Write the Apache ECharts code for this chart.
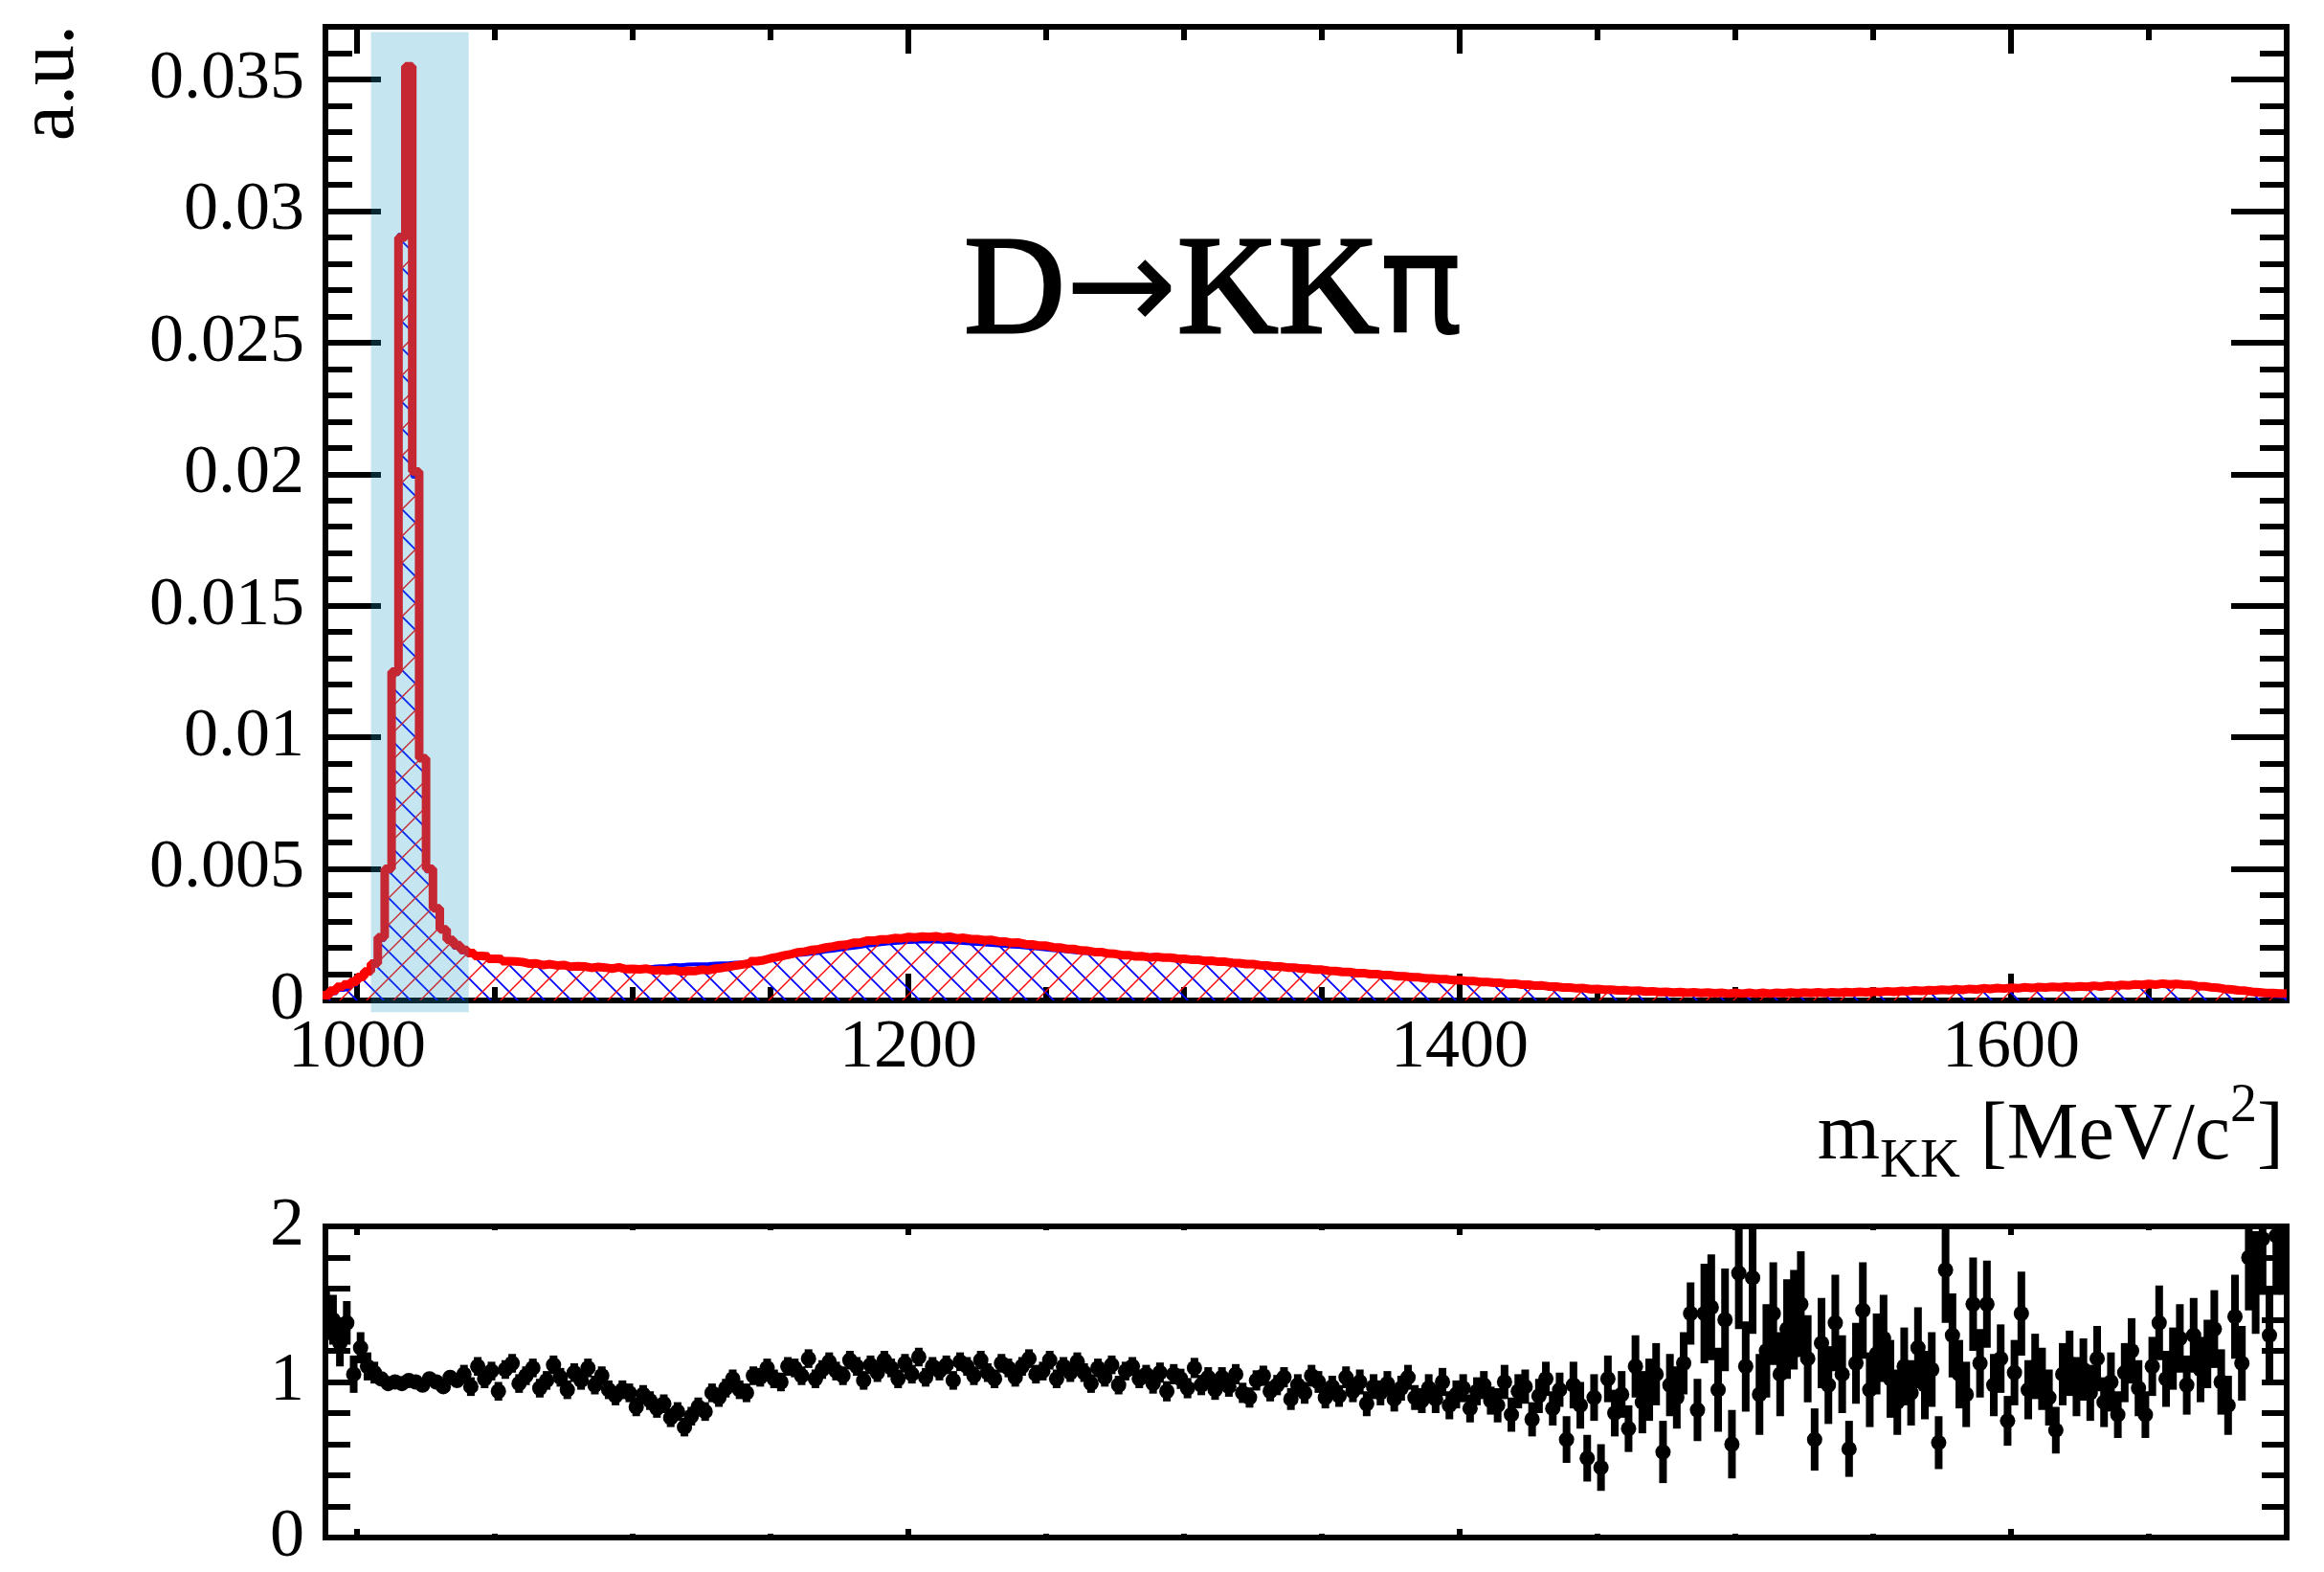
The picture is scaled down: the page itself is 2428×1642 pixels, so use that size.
<!DOCTYPE html>
<html><head><meta charset="utf-8">
<script src="https://cdn.jsdelivr.net/npm/echarts@6/dist/echarts.min.js"></script>
<style>html,body{margin:0;padding:0;background:#fff;}#c{width:2428px;height:1642px;}</style>
</head><body><div id="c"></div>
<script>
// ---------------- data ----------------
const binLow = 987.5;      // MeV, lower edge of first bin
const binWidth = 2.5;      // MeV
const xMin = 988.5, xMax = 1700;

// red histogram (model), per bin
const modelValues = [
0.0002,0.00037,0.00052,0.00061,0.00071,0.00089,0.0011,0.0014,0.0024,0.005,
0.0125,0.029,0.0355,0.0201,0.0092,0.005,0.0035,0.0027,0.0023,0.0021,
0.00192,0.0018,0.00169,0.00167,0.00158,0.00157,0.00149,0.00148,0.00146,0.0014,
0.00141,0.00134,0.00138,0.00133,0.00135,0.00128,0.0013,0.00129,0.00124,0.00127,
0.00125,0.00121,0.00126,0.00119,0.0012,0.00118,0.00121,0.00114,0.00116,0.00113,
0.00116,0.0011,0.00113,0.00112,0.00117,0.00115,0.00121,0.00124,0.00128,0.00133,
0.00137,0.00141,0.00149,0.00153,0.0016,0.00165,0.00171,0.00176,0.00183,0.00186,
0.00192,0.00195,0.00201,0.00205,0.0021,0.00212,0.00219,0.0022,0.00227,0.00227,
0.00232,0.00232,0.00237,0.00236,0.00241,0.00239,0.00243,0.00241,0.00244,0.00239,
0.00242,0.00236,0.00238,0.00234,0.00233,0.00229,0.0023,0.00225,0.00224,0.00219,
0.0022,0.00214,0.00213,0.00208,0.00208,0.00202,0.00201,0.00196,0.00196,0.0019,
0.00189,0.00184,0.00184,0.00178,0.00177,0.00172,0.00172,0.00167,0.00168,0.00163,
0.00166,0.00163,0.00163,0.00159,0.00158,0.00155,0.00155,0.0015,0.00151,0.00147,
0.00147,0.00143,0.00142,0.00138,0.00138,0.00134,0.00133,0.00129,0.00129,0.00125,
0.00125,0.00121,0.00121,0.00117,0.00117,0.00113,0.00112,0.00108,0.00108,0.00104,
0.00104,0.001,0.001,0.00096,0.00096,0.00092,0.00092,0.00088,0.00088,0.00084,
0.00084,0.00081,0.00081,0.00077,0.00077,0.00074,0.00074,0.0007,0.0007,0.00067,
0.00067,0.00063,0.00064,0.0006,0.0006,0.00056,0.00057,0.00053,0.00053,0.00049,
0.00049,0.00046,0.00047,0.00043,0.00044,0.00041,0.00041,0.00038,0.00039,0.00036,
0.00037,0.00034,0.00035,0.00032,0.00033,0.0003,0.00032,0.00029,0.00031,0.00028,
0.0003,0.00027,0.00029,0.00026,0.00029,0.00026,0.00029,0.00026,0.00029,0.00026,
0.00029,0.00027,0.0003,0.00027,0.0003,0.00028,0.00031,0.00028,0.00031,0.00029,
0.00032,0.0003,0.00033,0.00031,0.00034,0.00032,0.00035,0.00033,0.00036,0.00035,
0.00038,0.00036,0.00039,0.00038,0.00041,0.00039,0.00043,0.0004,0.00044,0.00042,
0.00046,0.00044,0.00047,0.00045,0.00048,0.00046,0.0005,0.00047,0.00051,0.00049,
0.00052,0.0005,0.00053,0.00051,0.00054,0.00052,0.00056,0.00053,0.00057,0.00055,
0.00059,0.00057,0.00061,0.00059,0.00063,0.0006,0.00064,0.00061,0.00063,0.0006,
0.00059,0.00055,0.00054,0.0005,0.00048,0.00044,0.00042,0.00038,0.00037,0.00033,
0.00031,0.00028,0.00028,0.00026,0.00026
];

// blue histogram (data), per bin
const dataValues = [
0.00014,0.00027,0.0004,0.00046,0.0006,0.0008,0.00102,0.00135,0.0023,0.0049,
0.0124,0.0291,0.0353,0.0199,0.0092,0.0049,0.0035,0.0027,0.0023,0.002,
0.00183,0.00172,0.00163,0.00161,0.00153,0.00149,0.00145,0.00141,0.00139,0.00135,
0.00133,0.00131,0.0013,0.00128,0.00127,0.00125,0.00124,0.00122,0.00121,0.0012,
0.0012,0.00119,0.00121,0.00122,0.00124,0.00125,0.00127,0.00128,0.0013,0.00131,
0.00135,0.00134,0.00136,0.00137,0.00137,0.00138,0.0014,0.00141,0.00142,0.00144,
0.00145,0.00149,0.00151,0.00157,0.00158,0.00163,0.00164,0.0017,0.00173,0.00175,
0.00178,0.00181,0.00186,0.00189,0.00193,0.00197,0.002,0.00204,0.00208,0.0021,
0.00214,0.00216,0.00218,0.0022,0.00222,0.00223,0.00224,0.00224,0.00224,0.00223,
0.00222,0.0022,0.00218,0.00216,0.00215,0.00213,0.00211,0.00209,0.00207,0.00205,
0.00204,0.00201,0.00199,0.00196,0.00194,0.00191,0.00189,0.00186,0.00184,0.00181,
0.0018,0.00178,0.00175,0.00173,0.0017,0.00168,0.00166,0.00163,0.00161,0.00159,
0.00172,0.0017,0.00168,0.00166,0.00164,0.00162,0.0016,0.00158,0.00156,0.00154,
0.00152,0.0015,0.00148,0.00146,0.00144,0.00141,0.00139,0.00137,0.00135,0.00133,
0.00131,0.00129,0.00127,0.00125,0.00123,0.0012,0.00118,0.00116,0.00114,0.00112,
0.0011,0.00108,0.00106,0.00104,0.00102,0.001,0.00098,0.00096,0.00094,0.00092,
0.0009,0.00088,0.00087,0.00085,0.00083,0.00081,0.00079,0.00077,0.00075,0.00074,
0.00072,0.0007,0.00068,0.00066,0.00064,0.00062,0.0006,0.00058,0.00056,0.00054,
0.00053,0.00051,0.00049,0.00048,0.00046,0.00045,0.00043,0.00042,0.00041,0.0004,
0.00038,0.00037,0.00036,0.00034,0.00033,0.00032,0.00031,0.0003,0.00029,0.00028,
0.00025,0.00024,0.00024,0.00023,0.00023,0.00023,0.00023,0.00023,0.00023,0.00023,
0.00023,0.00023,0.00023,0.00024,0.00024,0.00024,0.00025,0.00025,0.00026,0.00026,
0.00027,0.00027,0.00028,0.00029,0.00029,0.0003,0.00031,0.00031,0.00032,0.00033,
0.00034,0.00035,0.00035,0.00036,0.00037,0.00038,0.00039,0.0004,0.0004,0.00041,
0.00042,0.00043,0.00043,0.00044,0.00045,0.00046,0.00046,0.00047,0.00048,0.00048,
0.00049,0.0005,0.0005,0.00051,0.00052,0.00052,0.00053,0.00054,0.00055,0.00056,
0.00057,0.00058,0.00059,0.0006,0.00061,0.00061,0.00061,0.00061,0.0006,0.00058,
0.00055,0.00052,0.00049,0.00046,0.00043,0.0004,0.00037,0.00034,0.00031,0.00028,
0.00022,0.00019,0.00017,0.00015,0.00014
];

// lower panel: ratio per bin and its uncertainty
const ratioValues = [
1.44,1.40,1.25,1.38,1.05,1.22,1.10,1.06,1.02,0.99,
1.00,0.99,1.01,1.00,0.98,1.02,1.00,0.97,1.03,1.01,
1.05,0.97,1.10,1.02,1.07,0.94,1.08,1.12,0.99,1.04,
1.09,0.96,1.01,1.11,1.03,0.95,1.06,1.01,1.09,0.98,
1.04,0.95,0.91,0.95,0.93,0.84,0.92,0.88,0.83,0.86,
0.77,0.81,0.71,0.78,0.84,0.81,0.93,0.90,0.96,1.02,
0.95,0.93,1.04,1.03,1.09,1.02,1.00,1.10,1.09,1.04,
1.15,1.02,1.08,1.13,1.07,1.04,1.14,1.10,1.01,1.11,
1.06,1.14,1.09,1.02,1.12,1.05,1.16,1.03,1.10,1.07,
1.11,1.01,1.13,1.10,1.04,1.14,1.06,1.02,1.12,1.09,
1.03,1.10,1.15,1.05,1.07,1.14,1.02,1.10,1.06,1.13,
1.06,0.99,1.09,1.03,1.11,0.98,1.07,1.10,1.02,1.05,
0.99,1.06,0.94,1.05,1.02,0.96,1.09,0.98,1.03,0.95,
1.03,0.97,1.05,0.93,0.90,1.01,1.04,0.94,0.98,1.03,
0.89,0.98,0.93,1.04,1.00,0.90,0.97,0.91,1.03,0.94,
1.00,0.86,0.97,0.93,0.99,0.89,0.96,1.03,0.90,0.88,
0.96,0.89,1.00,0.85,0.92,0.96,0.83,0.94,0.98,0.88,
0.85,1.00,0.79,0.94,0.97,0.76,0.91,1.02,0.83,0.95,
0.63,0.98,0.85,0.51,0.90,0.45,1.02,0.80,0.92,0.70,
1.10,0.87,0.95,1.05,0.55,0.98,0.90,1.12,1.44,0.82,
1.44,1.48,0.95,1.40,0.60,1.70,1.10,1.67,0.92,1.20,
1.44,1.05,1.34,1.40,1.50,1.15,0.63,1.25,0.98,1.38,
1.05,0.57,1.12,1.46,0.95,1.18,1.28,1.02,0.87,1.10,
0.93,1.22,0.98,1.08,0.61,1.72,1.30,1.05,0.92,1.50,
1.12,1.50,0.98,1.15,0.75,1.06,1.44,0.95,1.10,1.02,
0.90,0.69,1.05,1.12,0.97,1.08,0.93,1.15,0.87,1.00,
0.79,1.06,1.20,0.96,0.79,1.10,1.38,1.02,1.15,1.28,
0.98,1.30,1.08,1.18,1.34,1.00,0.85,1.42,1.12,1.80,
1.64,1.92,1.30,1.94,1.96
];
const ratioErrors = [
0.17,0.16,0.15,0.14,0.12,0.10,0.09,0.07,0.04,0.03,
0.02,0.015,0.015,0.015,0.02,0.025,0.03,0.035,0.04,0.045,
0.06,0.06,0.06,0.06,0.06,0.06,0.06,0.06,0.06,0.06,
0.06,0.06,0.06,0.06,0.06,0.06,0.06,0.06,0.06,0.06,
0.06,0.06,0.06,0.06,0.06,0.06,0.06,0.06,0.06,0.06,
0.06,0.06,0.06,0.06,0.06,0.06,0.06,0.06,0.06,0.06,
0.06,0.06,0.06,0.06,0.06,0.06,0.06,0.06,0.06,0.06,
0.06,0.06,0.06,0.06,0.06,0.06,0.06,0.06,0.06,0.06,
0.06,0.06,0.06,0.06,0.06,0.06,0.06,0.06,0.06,0.06,
0.06,0.06,0.06,0.06,0.06,0.06,0.06,0.06,0.06,0.06,
0.06,0.06,0.06,0.06,0.06,0.06,0.06,0.06,0.06,0.06,
0.06,0.06,0.06,0.06,0.06,0.06,0.06,0.06,0.06,0.06,
0.065,0.065,0.065,0.065,0.065,0.065,0.065,0.065,0.065,0.065,
0.065,0.065,0.065,0.065,0.065,0.065,0.065,0.065,0.065,0.065,
0.07,0.07,0.07,0.07,0.07,0.07,0.07,0.07,0.07,0.07,
0.08,0.08,0.08,0.08,0.08,0.08,0.08,0.08,0.08,0.08,
0.09,0.09,0.09,0.09,0.09,0.09,0.09,0.09,0.09,0.09,
0.11,0.11,0.11,0.11,0.11,0.11,0.11,0.11,0.11,0.11,
0.15,0.15,0.15,0.15,0.15,0.15,0.15,0.15,0.15,0.15,
0.20,0.20,0.20,0.20,0.20,0.20,0.20,0.20,0.20,0.20,
0.32,0.34,0.27,0.33,0.22,0.36,0.29,0.36,0.26,0.30,
0.33,0.27,0.32,0.32,0.34,0.28,0.20,0.29,0.25,0.31,
0.25,0.18,0.26,0.31,0.24,0.26,0.28,0.25,0.21,0.25,
0.21,0.26,0.22,0.24,0.17,0.34,0.27,0.22,0.21,0.30,
0.22,0.28,0.20,0.22,0.16,0.21,0.27,0.19,0.21,0.20,
0.18,0.15,0.20,0.21,0.19,0.20,0.18,0.21,0.16,0.19,
0.15,0.19,0.21,0.18,0.15,0.19,0.24,0.18,0.20,0.22,
0.19,0.24,0.21,0.22,0.25,0.21,0.19,0.27,0.24,0.34,
0.33,0.36,0.29,0.38,0.40
];

// highlighted mass window
const bandRange = [1005, 1040.5];

// axes
const xTickLabels = [1000, 1200, 1400, 1600];
const xMinorTicks = [1000,1050,1100,1150,1200,1250,1300,1350,1400,1450,1500,1550,1600,1650,1700];
const yTickLabels = [0, 0.005, 0.01, 0.015, 0.02, 0.025, 0.03, 0.035];
const yMinorTicks = [0.001,0.002,0.003,0.004,0.006,0.007,0.008,0.009,0.011,0.012,0.013,0.014,0.016,0.017,0.018,0.019,0.021,0.022,0.023,0.024,0.026,0.027,0.028,0.029,0.031,0.032,0.033,0.034,0.036];
const yMax = 0.037;
const ratioTickLabels = [0, 1, 2];
const ratioMinorTicks = [0.2,0.4,0.6,0.8,1.2,1.4,1.6,1.8];

// ---------------- chart ----------------
const FONT = 'Liberation Serif';

function hatch(color, dir, lw) {
  const s = 28;
  const c = document.createElement('canvas');
  c.width = s; c.height = s;
  const g = c.getContext('2d');
  g.strokeStyle = color; g.lineWidth = lw;
  g.beginPath();
  for (let k = -1; k <= 1; k++) {
    if (dir > 0) { g.moveTo(k * s, s); g.lineTo(k * s + s, 0); }
    else { g.moveTo(k * s, 0); g.lineTo(k * s + s, s); }
  }
  g.stroke();
  return c;
}

function stepData(vals) {
  const d = vals.map((v, i) => [binLow + i * binWidth, v]);
  d.push([binLow + vals.length * binWidth, vals[vals.length - 1]]);
  return d;
}

function tickAxis(gridIndex, position, min, max, ticks, len, labels, labelMargin, fmt) {
  return {
    type: 'value', gridIndex, position, min, max,
    splitLine: { show: false }, minorTick: { show: false }, minorSplitLine: { show: false },
    axisLine: { show: false, onZero: false },
    axisTick: { show: true, inside: true, length: len, customValues: ticks,
      lineStyle: { color: '#000', width: 6 } },
    axisLabel: labels ? {
      show: true, customValues: labels, margin: labelMargin,
      fontFamily: FONT, fontSize: 72, color: '#000',
      formatter: fmt || (v => String(v))
    } : { show: false }
  };
}

const yFmt = v => String(+(+v).toFixed(3));

const ratioPoints = ratioValues.map((v, i) => [binLow + (i + 0.5) * binWidth, v, ratioErrors[i]]);

const chart = echarts.init(document.getElementById('c'), null, { renderer: 'canvas' });
chart.setOption({
  animation: false,
  backgroundColor: '#fff',
  grid: [
    { left: 340, top: 28, width: 2049, height: 1017, show: true, borderWidth: 6, borderColor: '#000', backgroundColor: 'transparent' },
    { left: 340, top: 1281, width: 2049, height: 333, show: true, borderWidth: 6, borderColor: '#000', backgroundColor: 'transparent' }
  ],
  xAxis: [
    tickAxis(0, 'bottom', xMin, xMax, xTickLabels, 28, xTickLabels, 14),
    tickAxis(0, 'bottom', xMin, xMax, xMinorTicks, 14),
    tickAxis(0, 'top', xMin, xMax, xTickLabels, 28),
    tickAxis(0, 'top', xMin, xMax, xMinorTicks, 14),
    tickAxis(1, 'bottom', xMin, xMax, xTickLabels, 9),
    tickAxis(1, 'bottom', xMin, xMax, xMinorTicks, 4),
    tickAxis(1, 'top', xMin, xMax, xTickLabels, 9),
    tickAxis(1, 'top', xMin, xMax, xMinorTicks, 4)
  ],
  yAxis: [
    tickAxis(0, 'left', 0, yMax, yTickLabels, 58, yTickLabels, 22, yFmt),
    tickAxis(0, 'left', 0, yMax, yMinorTicks, 28),
    tickAxis(0, 'right', 0, yMax, yTickLabels, 58),
    tickAxis(0, 'right', 0, yMax, yMinorTicks, 28),
    tickAxis(1, 'left', 0, 2, ratioTickLabels, 26, ratioTickLabels, 22),
    tickAxis(1, 'left', 0, 2, ratioMinorTicks, 26),
    tickAxis(1, 'right', 0, 2, ratioTickLabels, 26),
    tickAxis(1, 'right', 0, 2, ratioMinorTicks, 26)
  ],
  series: [
    {
      type: 'line', xAxisIndex: 0, yAxisIndex: 0, step: 'end', symbol: 'none', z: 2,
      data: stepData(dataValues),
      lineStyle: { color: '#0000ff', width: 4 },
      areaStyle: { color: { image: hatch('#0000ff', -1, 1.8), repeat: 'repeat' }, opacity: 1 }
    },
    {
      type: 'line', xAxisIndex: 0, yAxisIndex: 0, step: 'end', symbol: 'none', z: 3,
      data: stepData(modelValues),
      lineStyle: { color: '#ff0000', width: 9 },
      areaStyle: { color: { image: hatch('#ff0000', 1, 1.4), repeat: 'repeat' }, opacity: 1 }
    },
    {
      // translucent band over the selected window, drawn on top of everything
      type: 'custom', xAxisIndex: 0, yAxisIndex: 0, z: 20, clip: false, silent: true,
      data: [bandRange],
      renderItem: function (params, api) {
        const p0 = api.coord([api.value(0), -0.00045]);
        const p1 = api.coord([api.value(1), 0.0368]);
        return { type: 'rect', shape: { x: p0[0], y: p1[1], width: p1[0] - p0[0], height: p0[1] - p1[1] },
                 style: { fill: 'rgba(31,154,196,0.26)' } };
      }
    },
    {
      type: 'custom', xAxisIndex: 4, yAxisIndex: 4, z: 5, clip: true,
      data: ratioPoints,
      renderItem: function (params, api) {
        const x = api.value(0), v = api.value(1), e = api.value(2);
        const top = api.coord([x, v + e]);
        const bot = api.coord([x, v - e]);
        const c = api.coord([x, v]);
        return {
          type: 'group',
          children: [
            { type: 'rect', shape: { x: c[0] - 4, y: top[1], width: 8, height: bot[1] - top[1] }, style: { fill: '#000' } },
            { type: 'circle', shape: { cx: c[0], cy: c[1], r: 8 }, style: { fill: '#000' } }
          ]
        };
      }
    }
  ],
  graphic: [
    { type: 'text', x: 54, y: 26, rotation: Math.PI / 2,
      style: { text: 'a.u.', fontFamily: FONT, fontSize: 84, fill: '#000', align: 'right', verticalAlign: 'middle' } },
    { type: 'text', x: 1268, y: 309,
      style: { text: '{a|D}{r|→}{a|KK}{b|π}', align: 'center', verticalAlign: 'middle', fill: '#000',
        rich: { a: { fontFamily: '"Liberation Serif", serif', fontSize: 146, fill: '#000', stroke: '#000', lineWidth: 3 },
                r: { fontFamily: '"DejaVu Sans", sans-serif', fontSize: 140, fill: '#000' },
                b: { fontFamily: '"DejaVu Sans", sans-serif', fontSize: 146, fill: '#000' } } } },
    { type: 'text', x: 2386, y: 1188,
      style: { text: '{m|m}{s|KK}{m| [MeV/c}{p|2}{m|]}', align: 'right', verticalAlign: 'middle', fill: '#000',
        rich: { m: { fontFamily: FONT, fontSize: 84, fill: '#000' },
                s: { fontFamily: FONT, fontSize: 58, fill: '#000', padding: [52, 0, 0, 0] },
                p: { fontFamily: FONT, fontSize: 56, fill: '#000', padding: [0, 0, 63, 0] } } } }
  ]
});
</script></body></html>
